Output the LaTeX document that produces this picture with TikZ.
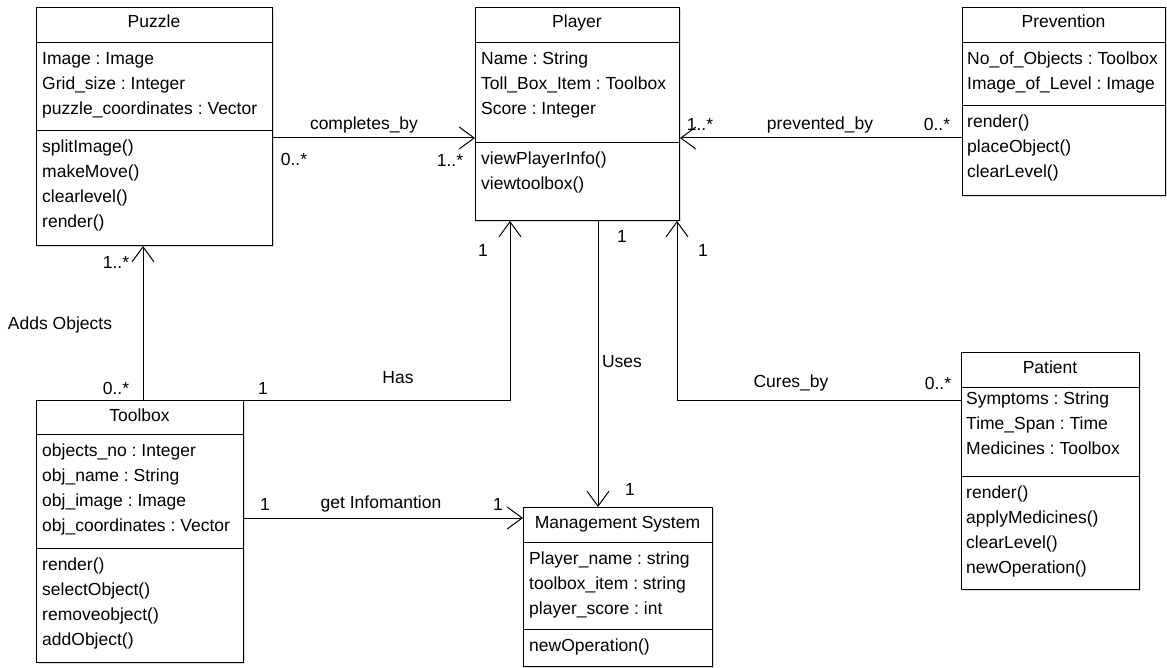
\documentclass[tikz,border=0pt]{standalone}
\usepackage{fontspec}
\setmainfont{Liberation Sans}
\usetikzlibrary{arrows.meta}
\usetikzlibrary{shadows}
\frenchspacing

\tikzset{
  classbox/.style={draw, fill=white, line width=1pt, anchor=north west, inner sep=0pt,
    drop shadow={shadow xshift=1.5pt, shadow yshift=-1.5pt, opacity=.3}},
  sep/.style={line width=1pt},
  txt/.style={anchor=base west, inner sep=0pt, font=\fontsize{17.5}{20}\selectfont},
  ttl/.style={anchor=base, inner sep=0pt, font=\fontsize{17.5}{20}\selectfont},
  lbl/.style={anchor=base, inner sep=0pt, font=\fontsize{17.5}{20}\selectfont},
  assoc/.style={line width=1pt, -{Straight Barb[length=15pt, width=22pt]}},
}

\begin{document}
\begin{tikzpicture}[x=1pt, y=-1pt]
  \useasboundingbox (0,0) rectangle (1167,668);

  % Puzzle

  \node[classbox, minimum width=236pt, minimum height=238pt] (puzzle) at (36,7) {};
  \draw[sep] (puzzle.west |- 0,43) -- (puzzle.east |- 0,43);
  \draw[sep] (puzzle.west |- 0,131) -- (puzzle.east |- 0,131);
  \node[ttl] (puzzle-t) at (154,28) {Puzzle};
  \foreach \s [count=\i] in {Image : Image, Grid\_size : Integer, puzzle\_coordinates : Vector}
    \node[txt] (puzzle-a\i) at (42,40+25*\i) {\s};
  \foreach \s [count=\i] in {splitImage(), makeMove(), clearlevel(), render()}
    \node[txt] (puzzle-m\i) at (42,128+25*\i) {\s};

  % Player

  \node[classbox, minimum width=204pt, minimum height=213pt] (player) at (475,7) {};
  \draw[sep] (player.west |- 0,43) -- (player.east |- 0,43);
  \draw[sep] (player.west |- 0,143) -- (player.east |- 0,143);
  \node[ttl] (player-t) at (577,28) {Player};
  \foreach \s [count=\i] in {Name : String, Toll\_Box\_Item : Toolbox, Score : Integer}
    \node[txt] (player-a\i) at (481,40+25*\i) {\s};
  \foreach \s [count=\i] in {viewPlayerInfo(), viewtoolbox()}
    \node[txt] (player-m\i) at (481,140+25*\i) {\s};

  % Prevention

  \node[classbox, minimum width=203pt, minimum height=188pt] (prevention) at (962,7) {};
  \draw[sep] (prevention.west |- 0,43) -- (prevention.east |- 0,43);
  \draw[sep] (prevention.west |- 0,106) -- (prevention.east |- 0,106);
  \node[ttl] (prevention-t) at (1063.5,28) {Prevention};
  \foreach \s [count=\i] in {No\_of\_Objects : Toolbox, Image\_of\_Level : Image}
    \node[txt] (prevention-a\i) at (967,40+25*\i) {\s};
  \foreach \s [count=\i] in {render(), placeObject(), clearLevel()}
    \node[txt] (prevention-m\i) at (967,103+25*\i) {\s};

  % Toolbox

  \node[classbox, minimum width=207pt, minimum height=262pt] (toolbox) at (36,400) {};
  \draw[sep] (toolbox.west |- 0,434) -- (toolbox.east |- 0,434);
  \draw[sep] (toolbox.west |- 0,548) -- (toolbox.east |- 0,548);
  \node[ttl] (toolbox-t) at (139.5,421) {Toolbox};
  \foreach \s [count=\i] in {objects\_no : Integer, obj\_name : String, obj\_image : Image, obj\_coordinates : Vector}
    \node[txt] (toolbox-a\i) at (42,431+25*\i) {\s};
  \foreach \s [count=\i] in {render(), selectObject(), removeobject(), addObject()}
    \node[txt] (toolbox-m\i) at (42,545+25*\i) {\s};

  % Management System

  \node[classbox, minimum width=189pt, minimum height=159pt] (mgmt) at (523,507) {};
  \draw[sep] (mgmt.west |- 0,542) -- (mgmt.east |- 0,542);
  \draw[sep] (mgmt.west |- 0,629) -- (mgmt.east |- 0,629);
  \node[ttl] (mgmt-t) at (617.5,528) {Management System};
  \foreach \s [count=\i] in {Player\_name : string, toolbox\_item : string, player\_score : int}
    \node[txt] (mgmt-a\i) at (529,539+25*\i) {\s};
  \node[txt] (mgmt-m1) at (529,651) {newOperation()};

  % Patient

  \node[classbox, minimum width=178pt, minimum height=237pt] (patient) at (961,352) {};
  \draw[sep] (patient.west |- 0,387) -- (patient.east |- 0,387);
  \draw[sep] (patient.west |- 0,476) -- (patient.east |- 0,476);
  \node[ttl] (patient-t) at (1050,373) {Patient};
  \foreach \s [count=\i] in {Symptoms : String, Time\_Span : Time, Medicines : Toolbox}
    \node[txt] (patient-a\i) at (966,379+25*\i) {\s};
  \foreach \s [count=\i] in {render(), applyMedicines(), clearLevel(), newOperation()}
    \node[txt] (patient-m\i) at (966,473+25*\i) {\s};

  % associations

  \draw[assoc] (puzzle.east |- 0,138) -- (player.west |- 0,138);
  \node[lbl] (l-completes) at (364,130) {completes\_by};
  \node[lbl] (l-completes-a) at (294,166) {0..*};
  \node[lbl] (l-completes-b) at (450,167) {1..*};

  \draw[assoc] (prevention.west |- 0,138) -- (player.east |- 0,138);
  \node[lbl] (l-prevented) at (820,130) {prevented\_by};
  \node[lbl] (l-prevented-a) at (937,131) {0..*};
  \node[lbl] (l-prevented-b) at (700,131) {1..*};

  \draw[assoc] (toolbox.north -| 143,0) -- (puzzle.south -| 143,0);
  \node[lbl] (l-adds) at (60,329) {Adds Objects};
  \node[lbl] (l-adds-a) at (116,394) {0..*};
  \node[lbl] (l-adds-b) at (116,269) {1..*};

  \draw[assoc] (toolbox.north east) -| (player.south -| 510,0);
  \node[lbl] (l-has) at (398,383) {Has};
  \node[lbl] (l-has-a) at (263,394) {1};
  \node[lbl] (l-has-b) at (483,257) {1};

  \draw[assoc] (player.south -| 598,0) -- (mgmt.north -| 598,0);
  \node[lbl] (l-uses) at (622,367) {Uses};
  \node[lbl] (l-uses-a) at (622,243) {1};
  \node[lbl] (l-uses-b) at (630,495) {1};

  \draw[assoc] (patient.west |- 0,400) -| (player.south -| 677,0);
  \node[lbl] (l-cures) at (791,387) {Cures\_by};
  \node[lbl] (l-cures-a) at (938,389) {0..*};
  \node[lbl] (l-cures-b) at (703,257) {1};

  \draw[assoc] (toolbox.east |- 0,518) -- (mgmt.west |- 0,518);
  \node[lbl] (l-info) at (381,508) {get Infomantion};
  \node[lbl] (l-info-a) at (265,510) {1};
  \node[lbl] (l-info-b) at (498,510) {1};

\end{tikzpicture}
\end{document}
